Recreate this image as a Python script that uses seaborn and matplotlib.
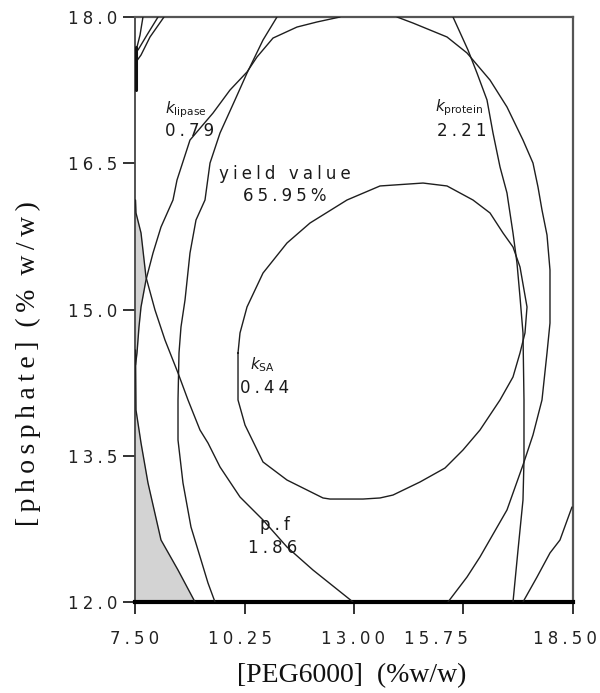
import numpy as np
import pandas as pd
import matplotlib
matplotlib.use("Agg")
import matplotlib.pyplot as plt
import matplotlib.transforms as mtransforms
import seaborn as sns

# ---------------- axis data ----------------
x_ticks = [7.50, 10.25, 13.00, 15.75, 18.50]
x_tick_labels = ["7.50", "10.25", "13.00", "15.75", "18.50"]
y_ticks = [12.0, 13.5, 15.0, 16.5, 18.0]
y_tick_labels = ["12.0", "13.5", "15.0", "16.5", "18.0"]
x_label = "[PEG6000]  (%w/w)"
y_label = "[phosphate] (% w/w)"

# ---------------- contour curves ----------------
yield_x = [10.087, 10.137, 10.313, 10.715, 11.317, 11.895, 12.824, 13.653, 14.733, 15.336,
           15.988, 16.416, 16.742, 16.993, 17.169, 17.345, 17.294, 17.169, 16.993, 16.667,
           16.164, 15.737, 15.285, 14.658, 13.979, 13.653, 13.226, 12.397, 12.221, 11.317,
           10.715, 10.263, 10.087, 10.087]
yield_y = [14.554, 14.759, 15.026, 15.374, 15.682, 15.887, 16.123, 16.267, 16.297, 16.267,
           16.123, 15.990, 15.785, 15.641, 15.436, 15.026, 14.759, 14.554, 14.308, 14.072,
           13.764, 13.559, 13.374, 13.231, 13.097, 13.067, 13.056, 13.056, 13.067, 13.251,
           13.436, 13.815, 14.072, 14.554]

arcA_x = [14.080, 14.482, 15.336, 15.838, 16.416, 16.842, 17.244, 17.495, 17.621, 17.721,
          17.847, 17.922, 17.922, 17.847, 17.721, 17.495, 17.244, 16.842, 16.164, 15.838, 15.361]
arcA_y = [18.0, 17.938, 17.795, 17.631, 17.353, 17.077, 16.738, 16.502, 16.256, 16.021,
          15.764, 15.405, 14.861, 14.554, 14.072, 13.713, 13.405, 12.944, 12.462, 12.256, 12.0]

protein_x = [15.486, 15.863, 16.089, 16.340, 16.491, 16.667, 16.842, 16.868, 16.993, 17.093,
             17.169, 17.244, 17.269, 17.269, 17.244, 17.119, 16.993]
protein_y = [18.0, 17.661, 17.425, 17.149, 16.810, 16.462, 16.195, 16.123, 15.785, 15.477,
             15.128, 14.759, 14.072, 13.456, 13.046, 12.533, 12.0]

corner_x = [18.474, 18.173, 17.922, 17.596, 17.244]
corner_y = [12.974, 12.636, 12.503, 12.256, 12.0]

lipase_x = [11.066, 10.715, 10.313, 10.011, 9.635, 9.384, 9.258, 9.032, 8.881, 8.756,
            8.655, 8.605, 8.580, 8.580, 8.705, 8.906, 9.158, 9.333, 9.509]
lipase_y = [18.0, 17.764, 17.425, 17.149, 16.810, 16.502, 16.123, 15.918, 15.579, 15.097,
            14.821, 14.554, 14.072, 13.661, 13.221, 12.769, 12.431, 12.195, 12.0]

sa_x = [12.648, 12.071, 11.568, 10.966, 10.564, 10.313, 9.886, 9.459, 8.881, 8.555,
        8.454, 8.153, 7.952, 7.776, 7.651, 7.600, 7.550, 7.513]
sa_y = [18.0, 17.949, 17.897, 17.784, 17.590, 17.436, 17.251, 17.015, 16.738, 16.328,
        16.123, 15.846, 15.579, 15.303, 15.026, 14.821, 14.554, 14.431]

pf_x = [7.513, 7.525, 7.651, 7.776, 8.002, 8.253, 8.580, 8.831, 9.132, 9.333,
        9.635, 10.137, 10.715, 11.317, 11.970, 12.975]
pf_y = [16.123, 15.990, 15.785, 15.333, 14.995, 14.687, 14.349, 14.072, 13.764, 13.631,
        13.385, 13.077, 12.841, 12.564, 12.328, 12.0]

low_x = [7.513, 7.525, 7.651, 7.826, 8.153, 8.580, 9.007]
low_y = [14.585, 13.969, 13.631, 13.221, 12.636, 12.328, 12.0]

t1_x = [8.228, 7.877, 7.651, 7.525]
t1_y = [18.0, 17.795, 17.610, 17.538]
t2_x = [8.078, 7.800, 7.575]
t2_y = [18.0, 17.815, 17.661]
t3_x = [7.700, 7.626, 7.550]
t3_y = [18.0, 17.815, 17.692]
edge_x = [7.525, 7.525]
edge_y = [17.692, 17.251]

# ---------------- labels ----------------
label_texts = [r"$k_{\mathrm{lipase}}$", "0.79", "yield value", "65.95%",
               r"$k_{\mathrm{protein}}$", "2.21", r"$k_{\mathrm{SA}}$", "0.44",
               "p.f", "1.86"]
label_x = [8.253, 8.253, 11.267, 11.267, 15.034, 15.085, 10.388, 10.137, 10.639, 10.338]
label_y = [17.046, 16.831, 16.390, 16.164, 17.066, 16.831, 14.431, 14.195, 12.790, 12.554]
label_ha = ["left", "left", "center", "center", "left", "left", "left", "left", "left", "left"]

# ---------------- build data frame ----------------
curves = {
    "yield": (yield_x, yield_y), "arcA": (arcA_x, arcA_y), "protein": (protein_x, protein_y),
    "corner": (corner_x, corner_y), "lipase": (lipase_x, lipase_y), "sa": (sa_x, sa_y),
    "pf": (pf_x, pf_y), "low": (low_x, low_y), "t1": (t1_x, t1_y), "t2": (t2_x, t2_y),
    "t3": (t3_x, t3_y),
}
rows = []
for name, (xs, ys) in curves.items():
    for i, (xv, yv) in enumerate(zip(xs, ys)):
        rows.append({"curve": name, "order": i, "x": xv, "y": yv})
df = pd.DataFrame(rows)

sns.set_theme(style="ticks")
plt.rcParams["font.family"] = ["DejaVu Sans"]
plt.rcParams["mathtext.fontset"] = "dejavusans"

fig = plt.figure(figsize=(6.0, 6.93), dpi=100)
ax = fig.add_axes([135 / 600, 1 - 602 / 693, (573 - 135) / 600, (602 - 17) / 693])

sns.lineplot(data=df, x="x", y="y", units="curve", estimator=None, sort=False,
             color="#1e1e1e", lw=1.0, legend=False, ax=ax, zorder=3)
ax.plot(edge_x, edge_y, color="#111111", lw=2.2, zorder=3)

GRAY = "#d3d3d3"
# gray feasible areas: left of both the p.f and k_SA contours, and left of the lower contour
yy = np.linspace(min(sa_y), max(pf_y), 300)
x_pf = np.interp(yy, np.array(pf_y)[::-1], np.array(pf_x)[::-1])
x_sa = np.interp(yy, np.array(sa_y)[::-1], np.array(sa_x)[::-1])
x_lens = np.minimum(x_pf, x_sa)
ax.fill_betweenx(yy, 7.5, x_lens, color=GRAY, lw=0, zorder=2)
yy2 = np.linspace(12.0, max(low_y), 300)
x_low = np.interp(yy2, np.array(low_y)[::-1], np.array(low_x)[::-1])
ax.fill_betweenx(yy2, 7.5, x_low, color=GRAY, lw=0, zorder=2)

ax.set_xlim(7.5, 18.5)
ax.set_ylim(12.0, 18.0)

SP = "\u2005"
def spaced(s, sep=SP, word_sep=SP + " " + SP):
    return word_sep.join(sep.join(list(w)) for w in s.split(" "))

ax.set_xticks(x_ticks, [spaced(t) for t in x_tick_labels])
ax.set_yticks(y_ticks, [spaced(t) for t in y_tick_labels])
ax.set_xlabel("")
ax.set_ylabel("")
ax.grid(False)

for side in ["top", "right"]:
    ax.spines[side].set_color("#555555")
    ax.spines[side].set_linewidth(1.6)
ax.spines["left"].set_color("#444444")
ax.spines["left"].set_linewidth(1.3)
ax.spines["bottom"].set_color("#000000")
ax.spines["bottom"].set_linewidth(3.0)

ax.tick_params(axis="both", which="major", direction="out", length=8.5, width=1.3,
               color="#222222", labelcolor="#222222", labelsize=12,
               bottom=True, left=True, top=False, right=False)
ax.tick_params(axis="x", pad=12)
ax.tick_params(axis="y", pad=4)

# x tick label offsets as in the reference
x_label_shift_px = [0, -4, -1, -28, -8]
for lab, dx in zip(ax.get_xticklabels(), x_label_shift_px):
    lab.set_transform(lab.get_transform() +
                      mtransforms.ScaledTranslation(dx / 100, 0, fig.dpi_scale_trans))

for t, xv, yv, ha in zip(label_texts, label_x, label_y, label_ha):
    if t.startswith("$"):
        ax.text(xv, yv, t, ha=ha, va="center", fontsize=11, color="#1a1a1a", zorder=4)
    else:
        ax.text(xv, yv, spaced(t), ha=ha, va="center", fontsize=12, color="#1a1a1a", zorder=4)

SERIF = ["Liberation Serif", "DejaVu Serif"]
fig.text(352 / 600, 1 - 676 / 693, x_label, ha="center", va="center",
         fontsize=20, family=SERIF, color="#111111")
fig.text(28 / 600, 1 - 364 / 693,
         spaced(y_label, sep="\u2009", word_sep="  "),
         ha="center", va="center", rotation=90,
         fontsize=20, family=SERIF, color="#111111")

fig.savefig("out.png", dpi=100)
